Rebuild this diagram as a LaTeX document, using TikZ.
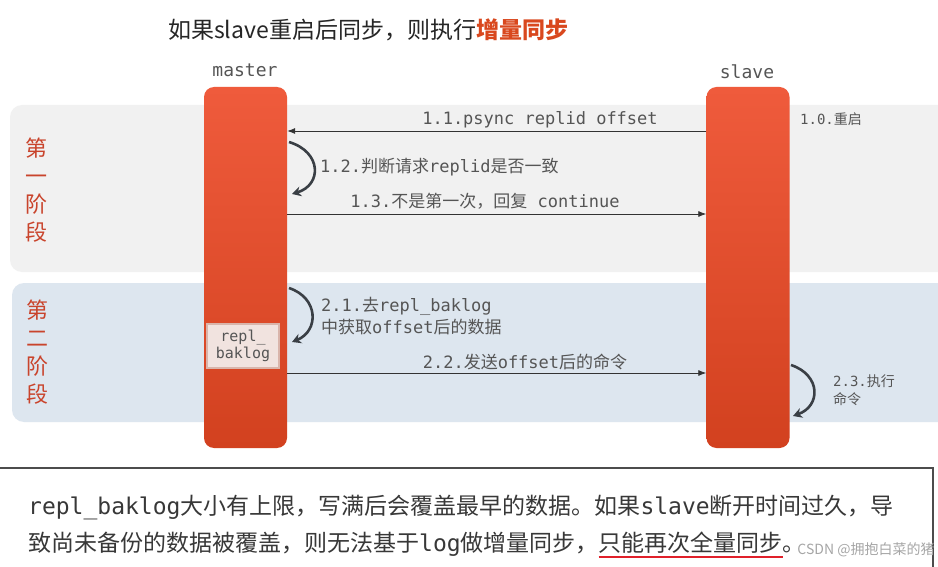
\documentclass[tikz,border=0pt]{standalone}
\usepackage{fontspec}
\setmainfont{Noto Sans CJK SC}
\newfontfamily\monof{DejaVu Sans Mono}
\usetikzlibrary{arrows.meta}
\newcommand\mo[1]{{\monof #1}}
\definecolor{barTop}{HTML}{EF5B3C}
\definecolor{barBot}{HTML}{D2411F}
\definecolor{bandA}{HTML}{F1F1F1}
\definecolor{bandB}{HTML}{DDE6EF}
\definecolor{phaseRed}{HTML}{C9442C}
\definecolor{titleRed}{HTML}{D9481E}
\definecolor{lbl}{HTML}{555555}
\definecolor{loopc}{HTML}{3A3F45}
\definecolor{ulred}{HTML}{E0202A}
\definecolor{bakfill}{HTML}{F1E3DF}
\definecolor{bakedge}{HTML}{D9B5AB}
\newcommand\rul[1]{\setbox0\hbox{#1}\rlap{\textcolor{ulred}{\rule[-7pt]{\wd0}{2pt}}}\box0}
\tikzset{
  bar/.style={rounded corners=10pt, minimum width=83pt, minimum height=361pt, inner sep=0pt,
    top color=barTop, bottom color=barBot, draw=none},
  msg/.style={draw=black!80, line width=0.8pt, -{Latex[length=8pt,width=6pt]}},
  selfloop/.style={draw=loopc, line width=2.6pt, -{Stealth[length=9pt,width=10pt]}},
  lab/.style={text=lbl, inner sep=0pt, font=\fontsize{17}{20}\selectfont},
  small/.style={text=lbl, inner sep=0pt, font=\fontsize{14}{18}\selectfont},
  phase/.style={text=phaseRed, inner sep=0pt, align=center, font=\fontsize{22}{28}\selectfont},
  note/.style={anchor=west, inner sep=0pt, text=black!78, font=\fontsize{23}{26}\selectfont},
}
\begin{document}
\begin{tikzpicture}[x=1pt,y=-1pt]
\useasboundingbox (0,0) rectangle (938,567);
\fill[white] (0,0) rectangle (938,567);
% bands
\fill[bandA, rounded corners=12pt] (10,105) rectangle (960,272);
\fill[bandB, rounded corners=12pt] (12,283) rectangle (960,422);
% title
\node[anchor=west, inner sep=0pt, text=black!85, font=\fontsize{23}{26}\selectfont] (title) at (168,30)
  {如果slave重启后同步，则执行{\color{titleRed}\bfseries 增量同步}};
% lifeline labels
\node[lab, font=\monof\fontsize{18}{20}\selectfont] (mlabel) at (245,70) {master};
\node[lab, font=\monof\fontsize{18}{20}\selectfont] (slabel) at (747,72) {slave};
% bars
\node[bar] (master) at (245.5,267.5) {};
\node[bar] (slave) at (748,267.5) {};
% repl_baklog box
\node[fill=bakfill, draw=bakedge, line width=2.5pt, minimum width=72pt, minimum height=44pt, inner sep=0pt, align=center,
  text=lbl, font=\monof\fontsize{15}{17}\selectfont] (baklog) at (243,346) {repl\_\\baklog};
% phase labels
\node[phase] (p1) at (36,190) {第\\一\\阶\\段};
\node[phase] (p2) at (37,352) {第\\二\\阶\\段};
% messages
\coordinate (y11) at (0,131);
\coordinate (y13) at (0,214);
\coordinate (y22) at (0,373);
\draw[msg] (slave.west |- y11) -- (master.east |- y11);
\draw[msg] (master.east |- y13) -- (slave.west |- y13);
\draw[msg] (master.east |- y22) -- (slave.west |- y22);
\node[lab] (l11) at (540,120) {\mo{1.1.psync replid offset}};
\node[lab] (l13) at (485,201) {\mo{1.3.}不是第一次，回复\mo{ continue}};
\node[lab] (l22) at (525,362) {\mo{2.2.}发送\mo{offset}后的命令};
% self loops
\coordinate (a1) at (289,142);
\coordinate (b1) at (292,194);
\draw[selfloop] (a1) .. controls (322,152) and (322,185) .. (b1);
\node[lab, anchor=west] (l12) at (320,167) {\mo{1.2.}判断请求\mo{replid}是否一致};
\coordinate (a2) at (289,288);
\coordinate (b2) at (292,342);
\draw[selfloop] (a2) .. controls (319,298) and (319,331) .. (b2);
\node[lab, anchor=west, align=left, font=\fontsize{17}{22}\selectfont] (l21) at (321,316)
  {\mo{2.1.}去\mo{repl\_baklog}\\中获取\mo{offset}后的数据};
\coordinate (a3) at (791,365);
\coordinate (b3) at (793,416);
\draw[selfloop] (a3) .. controls (821,375) and (821,406) .. (b3);
\node[small, anchor=west, align=left] (l23) at (833,390) {\mo{2.3.}执行\\命令};
\node[small, anchor=west] (l10) at (800,119) {\mo{1.0.}重启};
% bottom note box
\draw[black!70, line width=2.5pt] (-5,468) -- (933,468) -- (933,580);
\node[note] (note1) at (28,508)
  {\mo{repl\_baklog}大小有上限，写满后会覆盖最早的数据。如果\mo{slave}断开时间过久，导};
\node[note] (note2) at (28,545)
  {致尚未备份的数据被覆盖，则无法基于\mo{log}做增量同步，\rul{只能再次全量同步}。};
\node[inner sep=0pt, text=black!35, font=\fontsize{14}{17}\selectfont] (wm) at (866,550) {CSDN @拥抱白菜的猪};
\end{tikzpicture}
\end{document}
